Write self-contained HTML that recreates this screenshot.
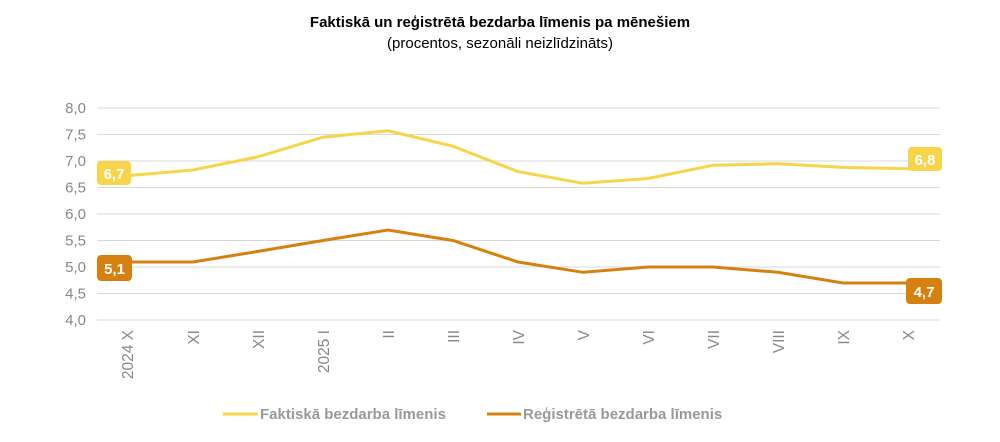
<!DOCTYPE html><html><head><style>body{margin:0;background:#fff}</style></head><body>
<svg width="1000" height="437" xmlns="http://www.w3.org/2000/svg" font-family="Liberation Sans, sans-serif">
<text x="500" y="27" text-anchor="middle" font-size="15" font-weight="bold" fill="#000">Faktiskā un reģistrētā bezdarba līmenis pa mēnešiem</text>
<text x="500" y="48" text-anchor="middle" font-size="15" fill="#000">(procentos, sezonāli neizlīdzināts)</text>
<g stroke="#d9d9d9" stroke-width="1">
<line x1="97" x2="940" y1="108" y2="108"/><line x1="97" x2="940" y1="134.5" y2="134.5"/><line x1="97" x2="940" y1="161" y2="161"/><line x1="97" x2="940" y1="187.5" y2="187.5"/><line x1="97" x2="940" y1="214" y2="214"/><line x1="97" x2="940" y1="240.5" y2="240.5"/><line x1="97" x2="940" y1="267" y2="267"/><line x1="97" x2="940" y1="293.5" y2="293.5"/><line x1="97" x2="940" y1="320" y2="320"/>
</g>
<g font-size="15" fill="#888" text-anchor="end">
<text x="86" y="113">8,0</text><text x="86" y="139.5">7,5</text><text x="86" y="166">7,0</text><text x="86" y="192.5">6,5</text><text x="86" y="219">6,0</text><text x="86" y="245.5">5,5</text><text x="86" y="272">5,0</text><text x="86" y="298.5">4,5</text><text x="86" y="325">4,0</text>
</g>
<g font-size="15.5" fill="#888" text-anchor="end">
<text transform="translate(133,330) rotate(-90)">2024 X</text>
<text transform="translate(199,330) rotate(-90)">XI</text>
<text transform="translate(264,330) rotate(-90)">XII</text>
<text transform="translate(329,330) rotate(-90)">2025 I</text>
<text transform="translate(394,330) rotate(-90)">II</text>
<text transform="translate(459,330) rotate(-90)">III</text>
<text transform="translate(524,330) rotate(-90)">IV</text>
<text transform="translate(589,330) rotate(-90)">V</text>
<text transform="translate(654,330) rotate(-90)">VI</text>
<text transform="translate(719,330) rotate(-90)">VII</text>
<text transform="translate(784,330) rotate(-90)">VIII</text>
<text transform="translate(849,330) rotate(-90)">IX</text>
<text transform="translate(914,330) rotate(-90)">X</text>
</g>
<polyline fill="none" stroke="#f7d54a" stroke-width="3" points="114,176.9 193,170 258,156.8 323,137.2 388,130.8 453,146.2 518,171.6 583,183.3 648,178.5 713,165.3 778,163.7 843,167.4 920,169"/>
<polyline fill="none" stroke="#d6810f" stroke-width="3" points="114,262 193,262 258,251.4 323,240.5 388,230 453,240.5 518,262 583,272.3 648,267 713,267 778,272.3 843,283 920,283"/>
<rect x="97" y="161" width="34" height="24" rx="4" fill="#f7d54a"/>
<text x="114" y="179" text-anchor="middle" font-size="15" font-weight="bold" fill="#fff">6,7</text>
<rect x="97" y="255" width="35" height="26" rx="4" fill="#d6810f"/>
<text x="114.5" y="274" text-anchor="middle" font-size="15" font-weight="bold" fill="#fff">5,1</text>
<rect x="908" y="147" width="34" height="24" rx="4" fill="#f7d54a"/>
<text x="925" y="165" text-anchor="middle" font-size="15" font-weight="bold" fill="#fff">6,8</text>
<rect x="906" y="278" width="36" height="26" rx="4" fill="#d6810f"/>
<text x="924" y="297" text-anchor="middle" font-size="15" font-weight="bold" fill="#fff">4,7</text>
<line x1="223" x2="258" y1="414" y2="414" stroke="#f7d54a" stroke-width="3"/>
<text x="260" y="419" font-size="15" font-weight="bold" fill="#999">Faktiskā bezdarba līmenis</text>
<line x1="487" x2="521" y1="414" y2="414" stroke="#d6810f" stroke-width="3"/>
<text x="523" y="419" font-size="15" font-weight="bold" fill="#999">Reģistrētā bezdarba līmenis</text>
</svg>
</body></html>
